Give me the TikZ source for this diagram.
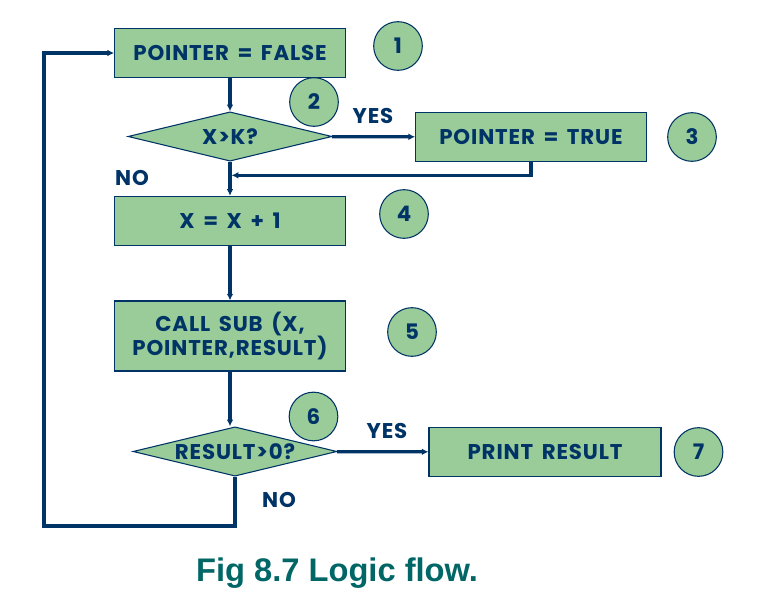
\documentclass[tikz,border=0pt]{standalone}
\usepackage{fontspec}
\setmainfont{Poppins}[LetterSpace=4,WordSpace=1.6]
\newfontfamily\capfont{Liberation Sans}
\usepackage{xcolor}
\usepackage{tikz}
\usetikzlibrary{shapes.geometric,arrows.meta,positioning,calc}

\definecolor{navy}{RGB}{0,51,102}
\definecolor{boxgreen}{RGB}{153,204,153}
\definecolor{capteal}{RGB}{0,102,102}

\tikzset{
    stepbox/.style={draw=navy, fill=boxgreen, text=navy, line width=0.8pt,
        font=\bfseries\fontsize{16}{18}\selectfont, align=center,
        minimum width=173pt, minimum height=37pt},
    testbox/.style={diamond, aspect=4, draw=navy, fill=boxgreen, text=navy, line width=0.8pt,
        font=\bfseries\fontsize{16}{18}\selectfont, inner sep=0pt,
        minimum width=153pt, minimum height=37pt},
    numball/.style={circle, draw=navy, fill=boxgreen, text=navy, line width=0.8pt,
        font=\bfseries\fontsize{16}{18}\selectfont, inner sep=0pt, minimum size=36.5pt},
    answer/.style={text=navy, font=\bfseries\fontsize{16}{18}\selectfont},
    flow/.style={draw=navy, line width=2.4pt, -{Latex[length=5pt,width=5pt]}},
}

\begin{document}
\begin{tikzpicture}[x=0.75pt, y=-0.75pt]
    \useasboundingbox (0,0) rectangle (782,613);

    % Boxes and tests
    \node[stepbox] (init) at (230,53) {POINTER = FALSE};
    \node[testbox] (testk) at (230,136.5) {X>K?};
    \node[stepbox] (settrue) at (531,137) {POINTER = TRUE};
    \node[stepbox] (incx) at (230,221) {X = X + 1};
    \node[stepbox, minimum height=52.5pt] (callsub) at (230,336) {CALL SUB (X,\\POINTER,RESULT)};
    \node[testbox] (testres) at (235,451.5) {RESULT>0?};
    \node[stepbox, minimum width=174pt] (print) at (545,452) {PRINT RESULT};

    % Step numbers
    \node[numball] (n1) at (398,46) {1};
    \node[numball] (n2) at (314,102) {2};
    \node[numball] (n3) at (692,137) {3};
    \node[numball] (n4) at (404,214) {4};
    \node[numball] (n5) at (412,332) {5};
    \node[numball] (n6) at (313.5,416.5) {6};
    \node[numball] (n7) at (698.5,452) {7};

    % Branch labels
    \node[answer] (yesk) at (373,116) {YES};
    \node[answer] (nok) at (132,178) {NO};
    \node[answer] (yesres) at (387,431) {YES};
    \node[answer] (nores) at (279,499.5) {NO};

    % Connectors
    \coordinate (merge) at ($(testk.south)!0.4!(incx.north)$);
    \coordinate (loopcorner) at (44,526);
    \draw[flow] (init) -- (testk);
    \draw[flow] (testk) -- (settrue);
    \draw[flow] (testk) -- (incx);
    \draw[flow, shorten >=1.2pt] (settrue.south) |- (merge);
    \draw[flow] (incx) -- (callsub);
    \draw[flow] (callsub.south) -- (callsub.south |- testres.north);
    \draw[flow] (testres) -- (print);
    \draw[flow] (testres.south) |- (loopcorner) |- (init.west);

    % Caption
    \node[text=capteal, font=\capfont\bfseries\fontsize{24.5}{28}\selectfont] (caption) at (337,573) {Fig 8.7 Logic flow.};
\end{tikzpicture}
\end{document}
